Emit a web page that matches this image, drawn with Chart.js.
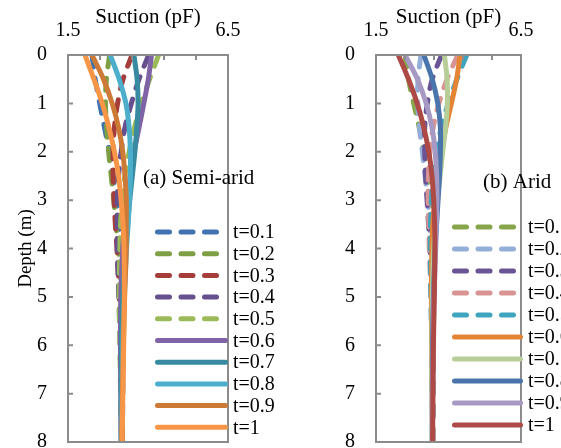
<!DOCTYPE html>
<html>
<head>
<meta charset="utf-8">
<script src="https://cdn.jsdelivr.net/npm/chart.js@4.4.1/dist/chart.umd.min.js"></script>
<style>
  html, body { margin: 0; padding: 0; background: #fff; }
  #wrap { position: relative; width: 561px; height: 448px; overflow: hidden; }
  #chartSemiArid { position: absolute; left: 0; top: 0; }
  #chartArid { position: absolute; left: 280px; top: 0; }
</style>
</head>
<body>
<div id="wrap">
  <canvas id="chartSemiArid" width="280" height="448"></canvas>
  <canvas id="chartArid" width="281" height="448"></canvas>
</div>
<script>
// depth (m) of each value in the series below
const depths = [0, 0.5, 1, 1.5, 2, 2.5, 3, 3.5, 4, 5, 6, 8];
const timeLabels = ["t=0.1", "t=0.2", "t=0.3", "t=0.4", "t=0.5", "t=0.6", "t=0.7", "t=0.8", "t=0.9", "t=1"];
const suctionTicks = [1.5, 2.5, 3.5, 4.5, 5.5, 6.5];
const suctionTickLabels = ["1.5", "", "", "", "", "6.5"];

// suction (pF), one row per t
const semiAridSuction = [
  [2.25, 2.35, 2.49, 2.64, 2.79, 2.91, 3.02, 3.09, 3.15, 3.21, 3.22, 3.20],
  [2.80, 2.70, 2.67, 2.71, 2.77, 2.85, 2.93, 3.00, 3.07, 3.15, 3.19, 3.20],
  [3.50, 3.22, 3.05, 2.95, 2.91, 2.91, 2.94, 2.98, 3.03, 3.10, 3.15, 3.19],
  [4.02, 3.72, 3.48, 3.28, 3.16, 3.08, 3.04, 3.04, 3.04, 3.09, 3.13, 3.18],
  [4.33, 4.05, 3.79, 3.58, 3.41, 3.28, 3.20, 3.14, 3.12, 3.10, 3.12, 3.17],
  [4.11, 4.01, 3.87, 3.72, 3.57, 3.45, 3.35, 3.27, 3.21, 3.15, 3.14, 3.16],
  [3.56, 3.66, 3.69, 3.65, 3.59, 3.51, 3.43, 3.36, 3.29, 3.21, 3.17, 3.16],
  [2.82, 3.10, 3.31, 3.41, 3.45, 3.45, 3.42, 3.38, 3.33, 3.26, 3.21, 3.17],
  [2.25, 2.61, 2.88, 3.08, 3.21, 3.28, 3.32, 3.32, 3.32, 3.27, 3.23, 3.18],
  [2.03, 2.31, 2.57, 2.78, 2.95, 3.08, 3.16, 3.22, 3.25, 3.26, 3.24, 3.19],
];

const aridSuction = [
  [2.50, 2.62, 2.80, 2.99, 3.15, 3.28, 3.37, 3.44, 3.47, 3.49, 3.48, 3.46],
  [3.05, 2.95, 2.94, 3.00, 3.10, 3.19, 3.28, 3.35, 3.41, 3.46, 3.47, 3.46],
  [3.76, 3.44, 3.27, 3.18, 3.18, 3.21, 3.26, 3.31, 3.36, 3.42, 3.45, 3.46],
  [4.32, 3.95, 3.67, 3.47, 3.36, 3.31, 3.30, 3.32, 3.34, 3.40, 3.44, 3.46],
  [4.63, 4.29, 3.99, 3.75, 3.58, 3.47, 3.41, 3.38, 3.37, 3.39, 3.42, 3.45],
  [4.40, 4.28, 4.10, 3.91, 3.75, 3.62, 3.53, 3.46, 3.43, 3.41, 3.42, 3.45],
  [3.86, 3.95, 3.96, 3.90, 3.80, 3.71, 3.62, 3.55, 3.49, 3.44, 3.43, 3.44],
  [3.15, 3.44, 3.63, 3.72, 3.72, 3.69, 3.64, 3.59, 3.54, 3.48, 3.45, 3.44],
  [2.50, 2.93, 3.23, 3.43, 3.54, 3.59, 3.60, 3.58, 3.56, 3.50, 3.47, 3.44],
  [2.27, 2.62, 2.92, 3.15, 3.32, 3.43, 3.49, 3.52, 3.53, 3.51, 3.48, 3.45],
];

const semiAridColors = ["#4173b2", "#7f9f45", "#a53e3b", "#65508d", "#9bbb59",
  "#7f63a6", "#378a9f", "#4bafcb", "#cc7a35", "#f79646"];
const aridColors = ["#87a64b", "#93aed8", "#6b5495", "#d89493", "#3fa4be",
  "#e38535", "#b7ce98", "#4a74ac", "#a69ac4", "#ad4a46"];

const AXIS_GREY = "#8c8c8c";
const SERIF = "'Liberation Serif', 'Times New Roman', serif";
const DASH = [12, 11.5];

// box, inward ticks, in-plot legend and panel note
const framePlugin = {
  id: "frame",
  afterDraw(chart, args, o) {
    const { ctx, chartArea: a, scales } = chart;
    ctx.save();
    ctx.strokeStyle = AXIS_GREY;
    ctx.lineWidth = 2;
    ctx.strokeRect(a.left, a.top, a.right - a.left, a.bottom - a.top);
    ctx.beginPath();
    scales.x.ticks.forEach((t) => {
      const px = scales.x.getPixelForValue(t.value);
      ctx.moveTo(px, a.top);
      ctx.lineTo(px, a.top + 5);
    });
    scales.y.ticks.forEach((t) => {
      const py = scales.y.getPixelForValue(t.value);
      ctx.moveTo(a.left, py);
      ctx.lineTo(a.left + 5, py);
    });
    ctx.stroke();

    ctx.font = "21px " + SERIF;
    ctx.fillStyle = "#000";
    ctx.textBaseline = "middle";
    ctx.fillText(o.note, o.noteX, o.noteY);

    ctx.lineCap = "round";
    ctx.lineWidth = 5;
    ctx.font = "20px " + SERIF;
    chart.data.datasets.forEach((ds, i) => {
      const y = o.legendTop + i * o.legendStep;
      ctx.strokeStyle = ds.borderColor;
      ctx.setLineDash(ds.borderDash.length ? DASH : []);
      ctx.beginPath();
      ctx.moveTo(o.legendX1 + 2.5, y);
      ctx.lineTo(o.legendX2 - 2.5, y);
      ctx.stroke();
      ctx.setLineDash([]);
      ctx.fillText(ds.label, o.legendX2 + 5, y + 1);
    });
    ctx.restore();
  },
};

function buildDatasets(series, colors) {
  return series.map((vals, i) => ({
    label: timeLabels[i],
    data: vals.map((v, k) => ({ x: v, y: depths[k] })),
    borderColor: colors[i],
    backgroundColor: colors[i],
    borderWidth: 5,
    borderDash: i < 5 ? DASH : [],
    borderCapStyle: "round",
    borderJoinStyle: "round",
    showLine: true,
    pointRadius: 0,
    tension: 0.35,
    order: series.length - i,
  }));
}

function makeOptions(cfg) {
  const tickFont = { family: SERIF, size: 20 };
  return {
    responsive: false,
    animation: false,
    layout: { padding: { top: 0, right: cfg.padRight, bottom: 6, left: 0 } },
    plugins: {
      legend: { display: false },
      tooltip: { enabled: false },
      frame: cfg.frame,
    },
    scales: {
      x: {
        type: "linear",
        position: "top",
        min: 1.5,
        max: 6.5,
        afterBuildTicks: (s) => { s.ticks = suctionTicks.map((v) => ({ value: v })); },
        ticks: {
          callback: (v, i) => suctionTickLabels[i],
          padding: 12,
          font: tickFont,
          color: "#000",
          autoSkip: false,
          maxRotation: 0,
        },
        grid: { display: false, drawTicks: false },
        border: { display: false },
        title: {
          display: true,
          text: "Suction (pF)",
          font: { family: SERIF, size: 21 },
          color: "#000",
          padding: { top: 5, bottom: 0 },
        },
        afterFit: (s) => { s.height = 55; s.paddingLeft = 0; s.paddingRight = 0; },
      },
      y: {
        type: "linear",
        reverse: true,
        min: 0,
        max: 8,
        ticks: { stepSize: 1, padding: 21, font: tickFont, color: "#000" },
        grid: { display: false, drawTicks: false },
        border: { display: false },
        title: {
          display: cfg.showDepthTitle,
          text: "Depth (m)",
          font: { family: SERIF, size: 19 },
          color: "#000",
          padding: { top: 15, bottom: 0 },
        },
        afterFit: (s) => { s.width = cfg.yWidth; s.paddingTop = 0; s.paddingBottom = 0; },
      },
    },
  };
}

new Chart(document.getElementById("chartSemiArid"), {
  type: "scatter",
  data: { datasets: buildDatasets(semiAridSuction, semiAridColors) },
  options: makeOptions({
    padRight: 52,
    yWidth: 68,
    showDepthTitle: true,
    frame: {
      note: "(a) Semi-arid", noteX: 143, noteY: 178,
      legendX1: 155, legendX2: 228, legendTop: 232, legendStep: 21.7,
    },
  }),
  plugins: [framePlugin],
});

new Chart(document.getElementById("chartArid"), {
  type: "scatter",
  data: { datasets: buildDatasets(aridSuction, aridColors) },
  options: makeOptions({
    padRight: 40,
    yWidth: 96,
    showDepthTitle: false,
    frame: {
      note: "(b) Arid", noteX: 203, noteY: 182,
      legendX1: 172, legendX2: 243, legendTop: 227, legendStep: 22,
    },
  }),
  plugins: [framePlugin],
});
</script>
</body>
</html>
